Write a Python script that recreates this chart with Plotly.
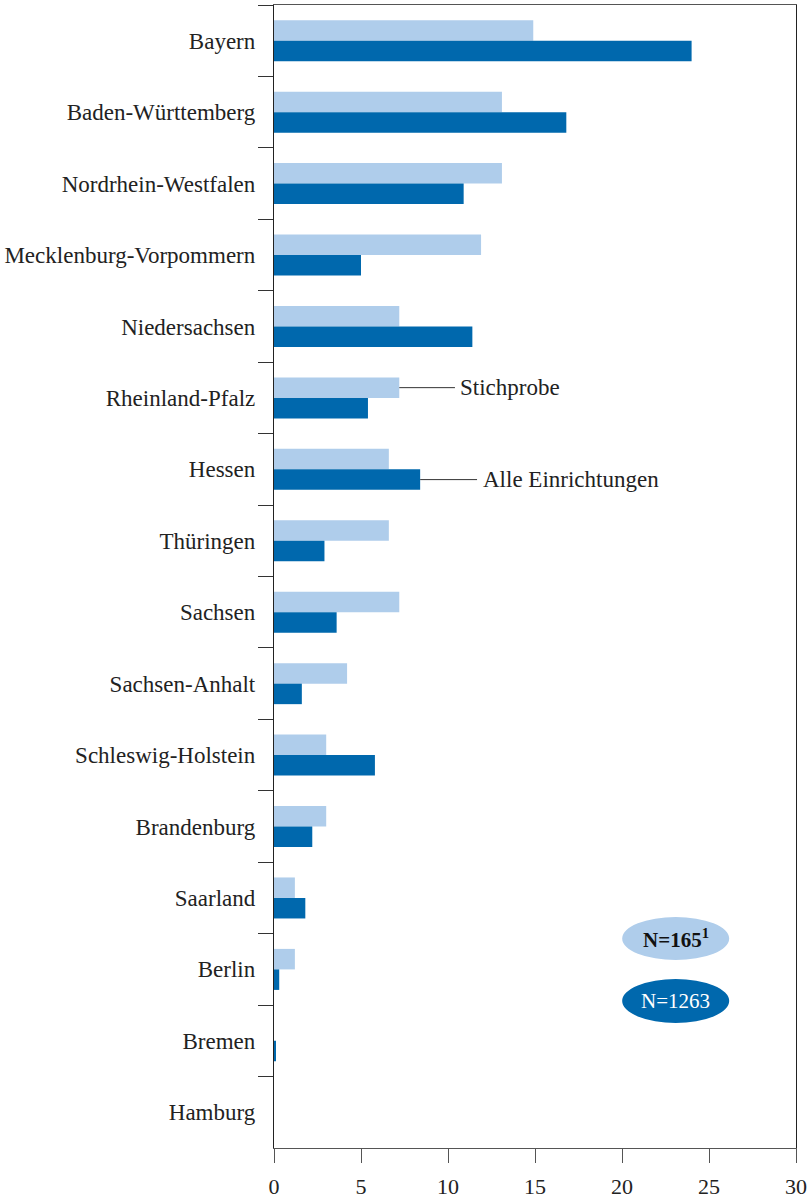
import plotly.graph_objects as go

# Bundesländer, sorted as in the figure (top to bottom)
laender = [
    "Bayern", "Baden-Württemberg", "Nordrhein-Westfalen", "Mecklenburg-Vorpommern",
    "Niedersachsen", "Rheinland-Pfalz", "Hessen", "Thüringen", "Sachsen",
    "Sachsen-Anhalt", "Schleswig-Holstein", "Brandenburg", "Saarland",
    "Berlin", "Bremen", "Hamburg",
]

# Anteile in Prozent
stichprobe = [14.9, 13.1, 13.1, 11.9, 7.2, 7.2, 6.6, 6.6, 7.2, 4.2, 3.0, 3.0, 1.2, 1.2, 0.0, 0.0]
alle_einrichtungen = [24.0, 16.8, 10.9, 5.0, 11.4, 5.4, 8.4, 2.9, 3.6, 1.6, 5.8, 2.2, 1.8, 0.3, 0.1, 0.0]

x_ticks = [0, 5, 10, 15, 20, 25, 30]

HELL = "#AFCDEB"
DUNKEL = "#0068AD"
TEXT = "#222222"
FONT = "Liberation Serif"

fig = go.Figure()
fig.add_trace(go.Bar(y=laender, x=stichprobe, orientation="h", name="Stichprobe",
                     marker=dict(color=HELL, line=dict(width=0))))
fig.add_trace(go.Bar(y=laender, x=alle_einrichtungen, orientation="h", name="Alle Einrichtungen",
                     marker=dict(color=DUNKEL, line=dict(width=0))))

# Bar half-offset within a category group (group width = 1 - bargap)
bargap = 0.426
half = (1 - bargap) / 4

# Leader lines and labels naming the two series
i_rp = laender.index("Rheinland-Pfalz")
i_he = laender.index("Hessen")
fig.add_shape(type="line", xref="x", yref="y",
              x0=stichprobe[i_rp], x1=10.4, y0=i_rp - half, y1=i_rp - half,
              line=dict(color="#333333", width=1))
fig.add_shape(type="line", xref="x", yref="y",
              x0=alle_einrichtungen[i_he], x1=11.67, y0=i_he + half, y1=i_he + half,
              line=dict(color="#333333", width=1))
fig.add_annotation(x=10.6, y=i_rp - half, xref="x", yref="y", text="Stichprobe",
                   showarrow=False, xanchor="left", yanchor="middle",
                   font=dict(family=FONT, size=23, color=TEXT))
fig.add_annotation(x=11.9, y=i_he + half, xref="x", yref="y", text="Alle Einrichtungen",
                   showarrow=False, xanchor="left", yanchor="middle",
                   font=dict(family=FONT, size=23, color=TEXT))

# Sample-size ovals
fig.add_shape(type="circle", xref="paper", yref="paper",
              x0=0.667, x1=0.872, y0=0.1645, y1=0.2021,
              fillcolor=HELL, line=dict(width=0), layer="below")
fig.add_shape(type="circle", xref="paper", yref="paper",
              x0=0.667, x1=0.872, y0=0.1094, y1=0.1479,
              fillcolor=DUNKEL, line=dict(width=0), layer="below")
fig.add_annotation(x=0.7695, y=0.1833, xref="paper", yref="paper",
                   text="<b>N=165<sup>1</sup></b>", showarrow=False,
                   xanchor="center", yanchor="middle",
                   font=dict(family=FONT, size=21, color="#111111"))
fig.add_annotation(x=0.7695, y=0.1286, xref="paper", yref="paper",
                   text="N=1263", showarrow=False,
                   xanchor="center", yanchor="middle",
                   font=dict(family=FONT, size=21, color="#FFFFFF"))

fig.update_layout(
    width=810, height=1200,
    margin=dict(l=274, r=14, t=5, b=52),
    paper_bgcolor="white", plot_bgcolor="white",
    barmode="group", bargap=bargap, bargroupgap=0,
    showlegend=False,
    font=dict(family=FONT, size=22, color=TEXT),
)
fig.update_xaxes(
    range=[0, 30], tickvals=x_ticks, ticktext=[str(v) for v in x_ticks],
    showgrid=False, zeroline=False, automargin=False,
    showline=True, linecolor="#555555", linewidth=1.3, mirror=True,
    ticks="outside", ticklen=14, tickcolor="#555555", tickwidth=1.3,
    ticklabelstandoff=4,
    tickfont=dict(family=FONT, size=22, color=TEXT),
)
fig.update_yaxes(
    autorange="reversed", type="category",
    showgrid=False, zeroline=False, automargin=False,
    showline=True, linecolor="#222222", linewidth=1.3, mirror=True,
    ticks="outside", tickson="boundaries", ticklen=15, tickcolor="#333333", tickwidth=1.3,
    ticklabelstandoff=13,
    tickfont=dict(family=FONT, size=23, color=TEXT),
)

fig.write_html("out.html")
